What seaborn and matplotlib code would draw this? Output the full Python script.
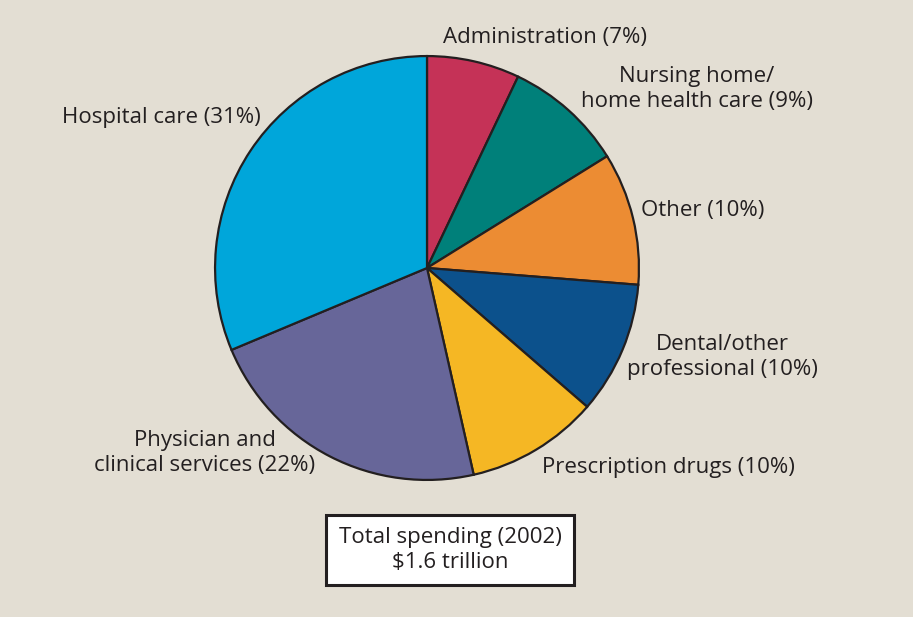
import matplotlib
matplotlib.use("Agg")
import matplotlib.pyplot as plt
import seaborn as sns

# data (clockwise from 12 o'clock)
categories = ["Administration", "Nursing home/\nhome health care", "Other",
              "Dental/other\nprofessional", "Prescription drugs",
              "Physician and\nclinical services", "Hospital care"]
shares = [7, 9, 10, 10, 10, 22, 31]
colors = ["#C53257", "#00807A", "#EC8C33", "#0C518C", "#F5B724", "#676699", "#00A6DA"]

W, H = 913, 617
bg = "#E3DED3"
ink = "#231F20"

sns.set_theme(style="white")
plt.rcParams['font.family'] = ['Open Sans', 'DejaVu Sans']

fig = plt.figure(figsize=(W / 100, H / 100), dpi=100, facecolor=bg)

# pie centre ~ (427, 268) px, radius ~213 px
cx, cy, r = 427, 268, 213
ax = fig.add_axes([(cx - r) / W, 1 - (cy + r) / H, 2 * r / W, 2 * r / H])
ax.pie(shares, colors=colors, startangle=90, counterclock=False,
       wedgeprops=dict(edgecolor=ink, linewidth=1.6))
ax.set_xlim(-1.005, 1.005)
ax.set_ylim(-1.005, 1.005)
ax.set_aspect("equal")
ax.axis("off")


def px(x, y):
    return x / W, 1 - y / H


fs = 16
labels = [f"{c} ({s}%)" for c, s in zip(categories, shares)]
# (x, y, ha) in pixel coords
spots = [(443, 38, "left"), (697, 89, "center"), (641, 210, "left"),
         (722, 357, "center"), (542, 467, "left"), (205, 453, "center"),
         (62, 117, "left")]
for lab, (x, y, ha) in zip(labels, spots):
    fig.text(*px(x, y), lab, ha=ha, va="center", multialignment="center",
             fontsize=fs, color=ink, linespacing=1.2)

fig.text(*px(450, 550), "Total spending (2002)\n$1.6 trillion", ha="center", va="center",
         fontsize=fs, color=ink, linespacing=1.2,
         bbox=dict(boxstyle="square,pad=0.55", facecolor="white", edgecolor=ink, linewidth=2.2))

fig.savefig("out.png", dpi=100, facecolor=bg)
